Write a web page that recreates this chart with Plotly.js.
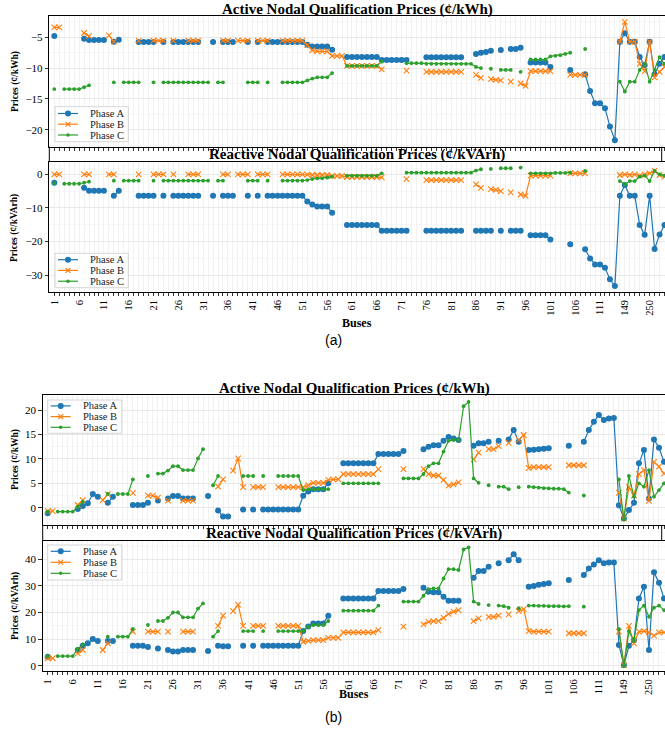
<!DOCTYPE html>
<html><head><meta charset="utf-8">
<script src="https://cdn.plot.ly/plotly-3.0.1.min.js"></script>
<style>html,body{margin:0;padding:0;background:#fff}#chart{width:665px;height:736px}</style>
</head><body><div id="chart"></div>
<script>
const buses = [1,2,3,4,5,6,7,8,9,10,11,12,13,14,15,16,17,18,19,20,21,22,23,24,25,26,27,28,29,30,
31,32,33,34,35,36,37,38,39,40,41,42,43,44,45,46,47,48,49,50,51,52,53,54,55,56,57,58,59,60,
61,62,63,64,65,66,67,68,69,70,71,72,73,74,75,76,77,78,79,80,81,82,83,84,85,86,87,88,89,90,
91,92,93,94,95,96,97,98,99,100,101,102,103,104,105,106,107,108,109,110,111,112,113,114,
135,149,151,152,160,197,250,300,450,610];
const tickBuses = [1,6,11,16,21,26,31,36,41,46,51,56,61,66,71,76,81,86,91,96,101,106,111,149,250];

// (a) Active
const activeA_a = [
-4.8,null,null,null,null,null,-5.25,-5.45,-5.45,-5.45,
-5.45,null,-5.7,-5.4,null,null,null,-5.75,-5.75,-5.75,
-5.75,null,-5.75,null,-5.75,-5.75,-5.75,-5.75,-5.75,-5.75,
null,null,-5.75,null,-5.75,-5.75,-5.75,null,null,-5.75,
null,-5.75,null,-5.75,-5.75,-5.75,-5.75,-5.75,-5.75,-5.75,
-5.75,-6.2,-6.5,-6.5,-6.5,-6.5,-7.0,null,null,-8.2,
-8.2,-8.2,-8.2,-8.2,-8.2,-8.2,-8.7,-8.7,-8.7,-8.7,
-8.7,-8.7,null,null,null,-8.25,-8.25,-8.25,-8.25,-8.25,
-8.25,-8.25,-8.25,null,null,-7.7,-7.5,-7.4,-7.2,null,
-7.05,null,-6.9,-6.9,-6.7,null,-9.1,-9.1,-9.1,-9.1,
-9.8,null,null,null,-10.3,null,null,-11.0,-13.7,-15.7,
-15.7,-16.5,-19.5,-21.7,-5.7,-4.35,-5.7,-5.7,-8.2,-9.5,-5.7,-11.0,-9.3,-8.2];
const activeB_a = [
-3.4,-3.4,null,null,null,null,-4.3,-4.8,null,null,
null,-4.7,-5.7,null,null,null,null,-5.55,null,null,
-5.55,-5.55,-5.55,null,-5.55,null,null,-5.55,-5.55,-5.55,
null,null,null,null,-5.55,-5.55,null,-5.55,-5.55,-5.55,
null,-5.55,-5.55,-5.55,null,null,-5.55,-5.55,-5.55,-5.55,
-5.55,-6.25,-7.1,-7.3,-7.3,-7.3,-8.0,-8.0,-8.0,-9.65,
-9.65,-9.65,-9.65,-9.65,-9.65,-9.65,-10.2,null,null,null,
null,-10.4,null,null,null,-10.6,-10.6,-10.6,-10.6,-10.6,
-10.6,-10.6,-10.6,null,null,-11.1,-11.6,null,-11.8,-11.9,
-12.0,null,-12.2,null,-12.5,-12.9,-10.5,-10.5,-10.5,-10.5,
-10.5,null,null,null,-11.1,-11.1,-11.1,-11.1,null,null,
null,null,null,null,-5.7,-2.5,-5.7,-5.7,-9.3,-10.5,-5.7,-11.5,-10.6,-9.8];
const activeC_a = [
-13.4,null,-13.4,-13.4,-13.4,-13.4,-13.1,-12.8,null,null,
null,null,-12.3,null,-12.3,-12.3,-12.3,-12.3,null,null,
-12.3,null,-12.3,-12.3,-12.3,-12.3,-12.3,-12.3,-12.3,-12.3,
-12.3,-12.3,null,-12.3,-12.3,null,null,null,null,-12.3,
-12.3,-12.3,null,-12.3,null,null,-12.3,-12.3,-12.3,-12.3,
-12.3,-12.0,-11.7,-11.5,-11.5,-11.5,-10.8,null,null,-9.65,
-9.65,-9.65,-9.65,-9.65,-9.65,-9.65,-8.95,null,null,null,
null,-9.2,-9.2,-9.2,-9.2,-9.3,-9.3,-9.3,-9.3,-9.3,
-9.3,-9.3,-9.3,-9.3,-9.3,-9.8,-10.0,null,-10.1,null,
-10.3,-10.3,-10.3,null,-10.6,null,-8.6,-8.6,-8.6,-8.6,
-8.1,-8.0,-7.9,-7.7,-7.5,null,null,-6.9,null,null,
null,null,null,null,-12.2,-13.8,-12.2,-12.2,-10.3,-9.3,-12.2,-10.3,-8.2,-9.3];

// (a) Reactive
const reactA_a = [
-2.5,null,null,null,null,null,-4.0,-4.9,-4.9,-4.9,
-4.9,null,-6.4,-4.9,null,null,null,-6.4,-6.4,-6.4,
-6.4,null,-6.4,null,-6.4,-6.4,-6.4,-6.4,-6.4,-6.4,
null,null,-6.4,null,-6.4,-6.4,-6.4,null,null,-6.4,
null,-6.4,null,-6.4,-6.4,-6.4,-6.4,-6.4,-6.4,-6.4,
-6.4,-8.1,-9.0,-9.6,-9.6,-9.6,-11.4,null,null,-15.1,
-15.1,-15.1,-15.1,-15.1,-15.1,-15.1,-16.8,-16.8,-16.8,-16.8,
-16.8,-16.8,null,null,null,-16.8,-16.8,-16.8,-16.8,-16.8,
-16.8,-16.8,-16.8,null,null,-16.8,-16.8,-16.8,-16.8,null,
-16.8,null,-16.8,-16.8,-16.8,null,-18.1,-18.1,-18.1,-18.1,
-19.4,null,null,null,-20.8,null,null,-22.3,-25.0,-26.8,
-26.8,-27.8,-31.2,-33.2,-6.4,-3.2,-6.4,-6.4,-15.1,-18.0,-6.4,-22.2,-17.9,-15.1];
const reactB_a = [
0,0,null,null,null,null,0,0,null,null,
null,0,0,null,null,null,null,0,null,null,
0,0,0,null,0,null,null,0,0,0,
null,null,null,null,0,0,null,0,0,0,
null,0,0,0,null,null,0,0,0,0,
0,-0.1,-0.2,-0.2,-0.2,-0.2,-0.5,-0.5,-0.5,-0.8,
-0.8,-0.8,-0.8,-0.8,-0.8,-0.8,-0.9,null,null,null,
null,-1.4,null,null,null,-1.7,-1.7,-1.7,-1.7,-1.7,
-1.7,-1.7,-1.7,null,null,-3.0,-4.0,null,-4.4,-4.6,
-5.0,null,-5.4,null,-6.0,-6.4,-0.4,-0.4,-0.4,-0.4,
-0.4,null,null,null,0.3,0.3,0.3,0.3,null,null,
null,null,null,null,-0.2,0,-0.2,0,-0.4,0,0.3,1.0,-0.2,-0.7];
const reactC_a = [
-2.7,null,-2.8,-2.8,-2.8,-2.8,-2.5,-2.2,null,null,
null,null,-1.9,null,-1.9,-1.9,-1.9,-1.9,null,null,
-1.9,null,-1.9,-1.9,-1.9,-1.9,-1.9,-1.9,-1.9,-1.9,
-1.9,-1.9,null,-1.9,-1.9,null,null,null,null,-1.9,
-1.9,-1.9,null,-1.9,null,null,-1.9,-1.9,-1.9,-1.9,
-1.9,-1.7,-1.4,-1.2,-1.2,-1.0,-0.7,null,null,-0.4,
-0.4,-0.4,-0.4,-0.4,-0.4,-0.4,0.3,null,null,null,
null,0.5,0.5,0.5,0.5,0.5,0.5,0.5,0.5,0.5,
0.5,0.5,0.5,0.5,0.5,1.1,1.5,null,1.6,null,
1.8,1.8,1.8,null,2.0,null,0.3,0.3,0.3,0.3,
0.3,0.4,0.4,0.4,0.5,null,null,1.0,null,null,
null,null,null,null,-2.0,-3.0,-2.0,-2.0,-0.7,-0.4,-2.0,1.0,0,-0.4];

// (b) Active
const activeA_b = [
-1.15,null,null,null,null,null,-0.25,0.35,0.9,2.8,
2.25,null,1.0,2.25,null,null,null,0.55,0.55,0.55,
1.0,null,1.45,null,1.9,2.4,2.4,1.9,1.9,1.9,
null,null,2.4,null,-0.6,-1.8,-1.8,null,null,-0.35,
null,-0.35,null,-0.35,-0.35,-0.35,-0.35,-0.35,-0.35,-0.35,
-0.35,2.45,3.3,3.8,3.8,3.8,5.0,null,null,9.1,
9.1,9.1,9.1,9.1,9.1,9.1,11.0,11.0,11.0,11.0,
11.0,11.6,null,null,null,12.0,12.5,12.8,12.8,13.7,
14.5,14.2,13.9,null,null,12.7,13.2,13.2,13.5,null,
13.7,null,14.0,15.9,13.5,null,11.8,11.9,12.0,12.1,
12.2,null,null,null,12.7,null,null,13.5,15.9,17.6,
19.0,18.0,18.3,18.4,0.5,-2.2,-0.5,1.0,9.1,11.8,1.9,14.0,12.3,9.4];
const activeB_b = [
-0.7,-0.7,null,null,null,null,0.55,1.55,null,null,
null,1.55,2.8,null,null,null,null,3.05,null,null,
2.45,2.45,2.05,null,1.45,null,null,1.45,1.45,1.45,
null,null,null,null,4.3,5.8,null,7.6,10.1,4.2,
null,4.2,4.2,4.2,null,null,4.2,4.2,4.2,4.2,
4.2,4.2,4.6,5.1,5.1,5.1,5.7,5.8,5.8,6.9,
6.9,6.9,6.9,6.9,6.9,6.9,7.9,null,null,null,
null,7.9,null,null,null,7.9,6.9,6.6,6.6,5.7,
4.5,4.8,5.2,null,null,9.9,11.3,null,12.0,12.0,
12.6,null,13.3,null,13.9,14.9,8.1,8.3,8.3,8.3,
8.3,null,null,null,8.7,8.7,8.7,8.7,null,null,
null,null,null,null,3.1,-2.2,4.2,2.5,6.9,7.7,1.4,9.4,8.4,7.0];
const activeC_b = [
-0.8,null,-0.8,-0.8,-0.8,-0.8,0.2,1.2,null,null,
null,null,2.8,null,2.8,2.8,2.8,5.8,null,null,
6.5,null,7.0,7.0,7.6,8.5,8.5,7.7,7.7,7.7,
10.1,12.0,null,4.6,6.5,null,null,null,null,6.5,
6.5,6.5,null,6.5,null,null,6.5,6.5,6.5,6.5,
6.5,3.6,3.8,3.8,3.8,3.8,3.8,null,null,5.0,
5.0,5.0,5.0,5.0,5.0,5.0,5.0,null,null,null,
null,6.0,6.0,6.0,6.0,6.9,8.5,9.1,9.1,11.5,
13.7,13.9,13.9,20.8,21.7,6.0,5.1,null,4.6,null,
4.3,4.3,3.8,null,4.2,null,4.3,4.2,4.1,4.0,
3.95,3.9,3.9,3.8,3.1,null,null,2.5,null,null,
null,null,null,null,5.8,-2.4,6.5,2.25,5.0,4.3,7.7,2.25,3.6,5.0];

// (b) Reactive
const reactA_b = [
3.4,null,null,null,null,null,5.9,7.5,8.4,10.0,
9.3,null,9.3,9.3,null,null,null,7.5,7.5,7.5,
7.0,null,6.5,null,5.9,5.3,5.3,5.9,5.9,5.9,
null,null,5.5,null,7.5,7.3,7.3,null,null,7.5,
null,7.5,null,7.5,7.5,7.5,7.5,7.5,7.5,7.5,
7.5,13.0,14.7,15.9,15.9,15.9,18.8,null,null,25.3,
25.3,25.3,25.3,25.3,25.3,25.3,28.1,28.1,28.1,28.1,
28.1,28.8,null,null,null,29.3,27.8,27.6,27.6,25.9,
24.4,24.4,24.4,null,null,33.1,35.6,35.6,37.2,null,
38.5,null,39.7,41.9,39.7,null,29.7,30.0,30.4,30.7,
31.0,null,null,null,32.2,null,null,34.1,36.6,38.1,
39.7,38.5,38.8,38.8,7.8,0.25,7.5,9.6,25.3,29.7,5.9,35.1,31.2,25.3];
const reactB_b = [
2.8,2.8,null,null,null,null,4.6,5.9,null,null,
null,5.9,8.4,null,null,null,null,12.8,null,null,
12.8,12.8,12.8,null,12.8,null,null,12.8,12.8,12.8,
null,null,null,null,15.0,18.8,null,20.5,23.0,15.0,
null,15.0,15.0,15.0,null,null,15.0,15.0,15.0,15.0,
15.0,9.0,9.3,9.6,9.6,9.6,10.5,10.5,10.5,12.5,
12.5,12.5,12.5,12.5,12.5,12.5,13.4,null,null,null,
null,14.7,null,null,null,15.5,16.5,16.8,16.8,18.0,
19.5,20.3,20.9,null,null,16.8,17.8,null,18.4,18.4,
18.8,null,19.3,null,20.5,21.3,13.0,12.8,12.8,12.8,
12.8,null,null,null,12.2,12.2,12.2,12.2,null,null,
null,null,null,null,12.8,0.25,15.0,8.4,12.8,13.0,12.5,11.3,12.5,12.5];
const reactC_b = [
3.6,null,3.6,3.6,3.6,3.6,6.3,8.0,null,null,
null,null,10.9,null,10.9,10.9,10.9,13.8,null,null,
15.3,null,16.8,16.8,18.0,20.0,20.0,18.2,18.2,18.2,
21.5,23.4,null,10.9,13.0,null,null,null,null,13.0,
13.0,13.0,null,13.0,null,null,13.0,13.0,13.0,13.0,
13.0,13.0,14.7,15.3,15.3,15.3,16.8,null,null,20.7,
20.7,20.7,20.7,20.7,20.7,20.7,22.6,null,null,null,
null,24.1,24.1,24.1,24.1,26.3,28.8,29.1,29.1,32.8,
36.3,36.3,36.0,43.7,44.5,24.1,23.2,null,22.8,null,
22.6,22.4,21.8,null,21.6,null,22.6,22.6,22.5,22.5,
22.4,22.4,22.4,22.3,22.4,null,null,22.2,null,null,
null,null,null,null,13.8,0,13.0,9.3,20.9,22.6,18.4,21.8,22.6,20.9];

const busCats = buses.map(String);
const tickText = buses.map(b => tickBuses.includes(b) ? String(b) : '');
const COL = {A:'#1f77b4', B:'#ff7f0e', C:'#2ca02c'};
const SERIF = 'Liberation Serif, Times New Roman, serif';

function tr(y, ph, ax){
  const t = {type:'scatter', mode:'lines+markers', x:busCats, y:y, xaxis:'x'+ax, yaxis:'y'+ax,
    showlegend:false, connectgaps:false, hoverinfo:'skip', name:'Phase '+ph};
  if(ph==='A'){ t.line={color:COL.A,width:1.2}; t.marker={symbol:'circle',size:6,color:COL.A}; }
  if(ph==='B'){ t.line={color:COL.B,width:1.2}; t.marker={symbol:'x-thin',size:5.5,color:COL.B,line:{color:COL.B,width:1.1}}; }
  if(ph==='C'){ t.line={color:COL.C,width:1.2}; t.marker={symbol:'circle',size:3.8,color:COL.C}; }
  return t;
}
const data = [
  tr(activeA_a,'A',''), tr(activeB_a,'B',''), tr(activeC_a,'C',''),
  tr(reactA_a,'A','2'), tr(reactB_a,'B','2'), tr(reactC_a,'C','2'),
  tr(activeA_b,'A','3'), tr(activeB_b,'B','3'), tr(activeC_b,'C','3'),
  tr(reactA_b,'A','4'), tr(reactB_b,'B','4'), tr(reactC_b,'C','4')
];

const W=665, H=736;
const px = x => x/W, py = y => 1 - y/H;

function xax(domL, rng, labels, yanchor){
  return {type:'category', categoryorder:'array', categoryarray:busCats,
    domain:[px(domL),1], range:rng, anchor:yanchor,
    tickmode:'array', tickvals:busCats, ticktext:tickText, showticklabels:labels,
    tickangle:-90, tickfont:{family:SERIF,size:10.5,color:'#000'},
    ticks:'outside', ticklen:3, tickwidth:0.8, tickcolor:'#000',
    showgrid:true, gridcolor:'#e9e9e9', gridwidth:0.6,
    showline:true, linecolor:'#000', linewidth:1, mirror:true, zeroline:false, fixedrange:true};
}
function yax(dom, rng, tv, minorD, xanchor){
  return {domain:[py(dom[1]), py(dom[0])], range:rng, anchor:xanchor,
    tickmode:'array', tickvals:tv, ticks:'outside', ticklen:3.5, tickwidth:0.8, tickcolor:'#000',
    tickfont:{family:SERIF,size:11,color:'#000'},
    showgrid:true, gridcolor:'#e3e3e3', gridwidth:0.7,
    minor:{dtick:minorD, showgrid:true, gridcolor:'#f0f0f0', gridwidth:0.5, ticks:''},
    showline:true, linecolor:'#000', linewidth:1, mirror:true, zeroline:false, fixedrange:true};
}

const shapes=[], ann=[];
function legendBox(l,t,r,b,rows){
  shapes.push({type:'rect',xref:'paper',yref:'paper',x0:px(l),x1:px(r),y0:py(b),y1:py(t),
    line:{color:'#cccccc',width:0.8},fillcolor:'rgba(255,255,255,0.85)',layer:'above'});
  const lx0=l+3, lx1=l+23, mx=l+13, tx=l+33;
  ['A','B','C'].forEach((ph,k)=>{
    const y=rows[k];
    shapes.push({type:'line',xref:'paper',yref:'paper',x0:px(lx0),x1:px(lx1),y0:py(y),y1:py(y),line:{color:COL[ph],width:1.2}});
    if(ph==='A') shapes.push({type:'circle',xref:'paper',yref:'paper',x0:px(mx-3),x1:px(mx+3),y0:py(y+3),y1:py(y-3),fillcolor:COL.A,line:{color:COL.A,width:0}});
    if(ph==='B'){
      shapes.push({type:'line',xref:'paper',yref:'paper',x0:px(mx-2.4),x1:px(mx+2.4),y0:py(y-2.4),y1:py(y+2.4),line:{color:COL.B,width:1.1}});
      shapes.push({type:'line',xref:'paper',yref:'paper',x0:px(mx-2.4),x1:px(mx+2.4),y0:py(y+2.4),y1:py(y-2.4),line:{color:COL.B,width:1.1}});
    }
    if(ph==='C') shapes.push({type:'circle',xref:'paper',yref:'paper',x0:px(mx-1.8),x1:px(mx+1.8),y0:py(y+1.8),y1:py(y-1.8),fillcolor:COL.C,line:{color:COL.C,width:0}});
    ann.push({xref:'paper',yref:'paper',x:px(tx),y:py(y),xanchor:'left',yanchor:'middle',text:'Phase '+ph,showarrow:false,
      font:{family:SERIF,size:10.5,color:'#222'}});
  });
}
legendBox(55,106.7,128.3,141.7,[113.5,124.2,135]);
legendBox(55,253.3,128.3,287.7,[259.7,270.4,281.2]);
legendBox(47.7,400,121.7,433.3,[405.9,416.6,427.3]);
legendBox(47.7,545,121.7,580,[551.3,562.3,573.3]);

// title strips
function vline(x,y0,y1){ shapes.push({type:'line',xref:'paper',yref:'paper',x0:px(x),x1:px(x),y0:py(y0),y1:py(y1),line:{color:'#000',width:1}}); }
vline(49.3,146.7,161.7); vline(661.7,146.7,161.7);
vline(42.7,525,541); vline(661.7,525,541);

function txt(x,y,s,font,extra){ ann.push(Object.assign({xref:'paper',yref:'paper',x:px(x),y:py(y),text:s,showarrow:false,xanchor:'center',yanchor:'middle',font:font},extra||{})); }
const titleFont = {family:SERIF,size:15,color:'#000',weight:'bold'};
txt(357,9.5,'Active Nodal Qualification Prices (¢/kWh)',titleFont);
txt(357,154.5,'Reactive Nodal Qualification Prices (¢/kVArh)',titleFont);
txt(354,388.5,'Active Nodal Qualification Prices (¢/kWh)',titleFont);
txt(354,533.5,'Reactive Nodal Qualification Prices (¢/kVArh)',titleFont);
const ytFont = {family:SERIF,size:9.5,color:'#000',weight:'bold'};
txt(15,82,'Prices (¢/kWh)',ytFont,{textangle:-90});
txt(15,228,'Prices (¢/kVArh)',ytFont,{textangle:-90});
txt(15,460,'Prices (¢/kWh)',ytFont,{textangle:-90});
txt(15,606,'Prices (¢/kVArh)',ytFont,{textangle:-90});
const bFont = {family:SERIF,size:12,color:'#000',weight:'bold'};
txt(357,322.5,'Buses',bFont);
txt(354,694,'Buses',bFont);
const capFont = {family:'Liberation Sans, Arial, sans-serif',size:14,color:'#000'};
txt(333,340,'(a)',capFont);
txt(333,717,'(b)',capFont);

const layout = {
  width:W, height:H, margin:{l:0,r:0,t:0,b:0}, paper_bgcolor:'#fff', plot_bgcolor:'#fff', showlegend:false,
  xaxis: xax(49.3,[-1.01,123.1],false,'y'),
  xaxis2: xax(49.3,[-1.01,123.1],true,'y2'),
  xaxis3: xax(42.7,[-1.0,123.2],false,'y3'),
  xaxis4: xax(42.7,[-1.0,123.2],true,'y4'),
  yaxis: yax([15.7,146.7],[-22.76,-1.49],[-20,-15,-10,-5],2.5,'x'),
  yaxis2: yax([161.7,291.7],[-34.9,3.75],[-30,-20,-10,0],5,'x2'),
  yaxis3: yax([395,525],[-3.55,23.1],[0,5,10,15,20],2.5,'x3'),
  yaxis4: yax([541,671],[-2.0,46.9],[0,10,20,30,40],5,'x4'),
  shapes:shapes, annotations:ann
};
Plotly.newPlot('chart', data, layout, {staticPlot:true, displayModeBar:false});
</script>
</body></html>
